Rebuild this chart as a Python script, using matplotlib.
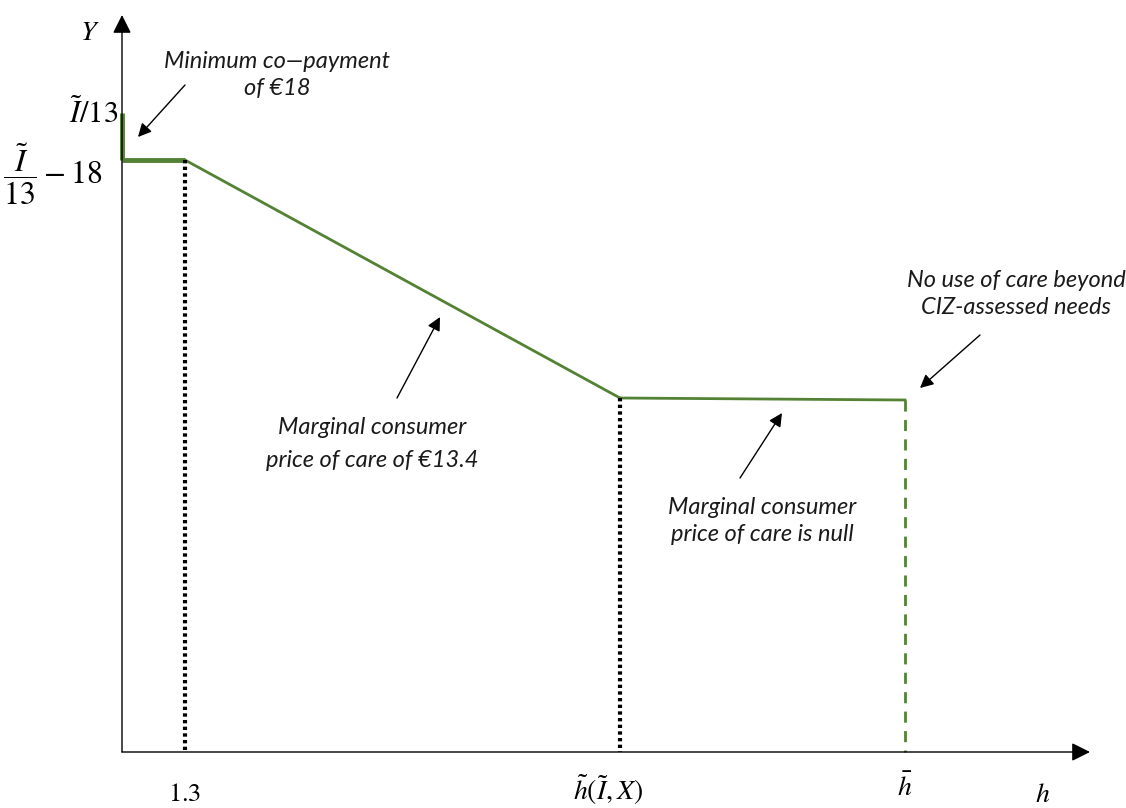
import matplotlib
matplotlib.use('Agg')
import matplotlib.pyplot as plt

plt.rcParams['mathtext.fontset'] = 'stix'

# kink points of the budget line (schematic units, origin at axis crossing)
h_kinks = [0, 63, 498, 783]
y_top = 639          # I/13
y_floor = 592        # I/13 - 18
y_flat = [354, 352]  # flat part after h~

green = '#548235'
note_font = dict(family='Lato', style='italic', fontsize=17, color='#1a1a1a')

fig = plt.figure(figsize=(11.26, 8.08), dpi=100)
ax = fig.add_axes([0, 0, 1, 1])
ax.set_xlim(-122, 1004)
ax.set_ylim(-56, 752)
ax.axis('off')

# axes with arrow heads
axis_arrow = dict(arrowstyle='-|>', color='black', lw=1, mutation_scale=28, shrinkA=0, shrinkB=0)
ax.annotate('', xy=(0, 737), xytext=(0, 0), arrowprops=axis_arrow)
ax.annotate('', xy=(968, 0), xytext=(0, 0), arrowprops=axis_arrow)

# budget line
ax.plot([0, 0], [y_top, y_floor], color=green, lw=3.5, solid_capstyle='butt')
ax.plot([0, h_kinks[1]], [y_floor, y_floor], color=green, lw=3.5, solid_capstyle='butt')
ax.plot([h_kinks[1], h_kinks[2]], [y_floor, y_flat[0]], color=green, lw=2)
ax.plot([h_kinks[2], h_kinks[3]], y_flat, color=green, lw=2)
ax.plot([h_kinks[3], h_kinks[3]], [y_flat[1], 0], color=green, lw=2, ls=(0, (4, 3)))

# dotted guides
ax.plot([h_kinks[1], h_kinks[1]], [y_floor, 0], color='black', lw=3, ls=(0, (0.8, 0.8)))
ax.plot([h_kinks[2], h_kinks[2]], [y_flat[0], 0], color='black', lw=3, ls=(0, (0.8, 0.8)))

# axis labels
ax.text(-32, 720, r'$Y$', fontsize=20, ha='center', va='center')
ax.text(1043 - 122, -42, r'$h$', fontsize=20, ha='center', va='center')
ax.text(h_kinks[1], -42, r'$1.3$', fontsize=19, ha='center', va='center')
ax.text(h_kinks[2] - 12, -38, r'$\tilde{h}(\tilde{I},X)$', fontsize=20, ha='center', va='center')
ax.text(h_kinks[3], -36, r'$\bar{h}$', fontsize=20, ha='center', va='center')
ax.text(-4, y_top, r'$\tilde{I}/13$', fontsize=22, ha='right', va='center')
ax.text(-20, y_floor - 14, r'$\dfrac{\tilde{I}}{13}-18$', fontsize=23, ha='right', va='center')

# annotations
note_arrow = dict(arrowstyle='-|>', color='black', lw=1, mutation_scale=20, shrinkA=0, shrinkB=0)
ax.annotate('', xy=(16, 615), xytext=(63, 667), arrowprops=note_arrow)
ax.text(155, 677, 'Minimum co\u2014payment\nof \u20ac18', ha='center', va='center', linespacing=1.4, **note_font)

ax.annotate('', xy=(318, 435), xytext=(275, 354), arrowprops=note_arrow)
ax.text(250, 308, 'Marginal consumer\nprice of care of \u20ac13.4', ha='center', va='center', linespacing=1.7, **note_font)

ax.annotate('', xy=(660, 339), xytext=(618, 274), arrowprops=note_arrow)
ax.text(640, 231, 'Marginal consumer\nprice of care is null', ha='center', va='center', linespacing=1.4, **note_font)

ax.annotate('', xy=(798, 364), xytext=(858, 417), arrowprops=note_arrow)
ax.text(894, 458, 'No use of care beyond\nCIZ-assessed needs', ha='center', va='center', linespacing=1.4, **note_font)

fig.savefig('out.png', dpi=100)
